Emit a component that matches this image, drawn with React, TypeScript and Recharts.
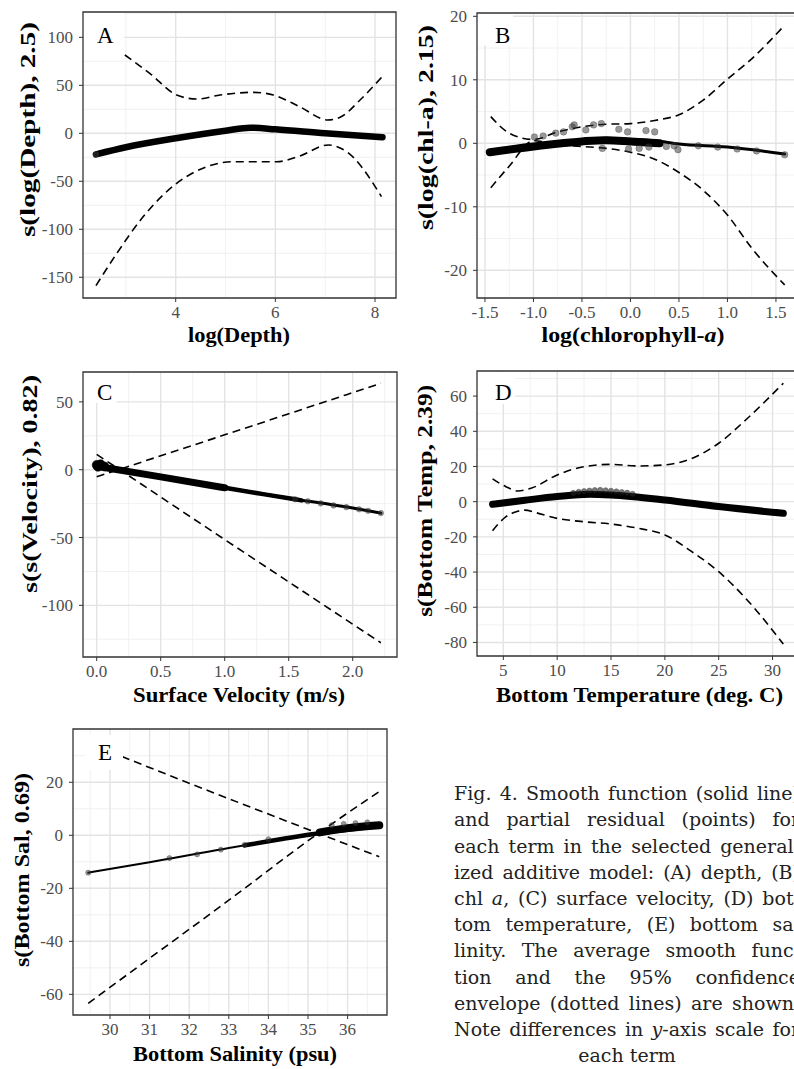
import React from 'react';
import { ComposedChart, Line, Scatter, XAxis, YAxis, CartesianGrid, ReferenceArea } from 'recharts';

// (A) depth
const depthFitX = [2.4, 3.0, 4.0, 5.0, 5.5, 6.0, 7.0, 8.15];
const depthFitY = [-22, -14.5, -5.2, 2.7, 5.9, 4.2, 0, -4.2];
const depthUpX = [2.98, 3.48, 4.02, 4.42, 4.89, 5.56, 5.96, 6.49, 7.05, 7.3, 7.7, 8.13];
const depthUpY = [81.6, 62.5, 39.9, 35.7, 39.9, 42.7, 39.9, 27.7, 13.9, 16.7, 34.7, 58.3];
const depthLoX = [2.4, 2.82, 3.35, 4.02, 4.62, 5.16, 6.03, 6.49, 7.06, 7.43, 8.13];
const depthLoY = [-158.7, -125, -86.8, -52.1, -34.8, -29.6, -29.6, -23.6, -12.2, -19.1, -66];
const depthPtsX = [2.4];
const depthPtsY = [-22];

// (B) chlorophyll-a
const chlFitX = [-1.45, -1.0, -0.5, -0.25, 0, 0.25, 0.5, 1.0, 1.59];
const chlFitY = [-1.4, -0.3, 0.5, 0.8, 0.6, 0.4, -0.1, -0.6, -1.7];
const chlBandX = [-1.45, -1.0, -0.5, -0.25, 0, 0.3];
const chlBandY = [-1.4, -0.5, 0.3, 0.5, 0.3, 0.0];
const chlUpX = [-1.44, -1.25, -1.0, -0.75, -0.5, -0.25, 0, 0.25, 0.5, 0.75, 1.0, 1.25, 1.59];
const chlUpY = [4.2, 1.6, 0.6, 1.8, 2.6, 3.0, 3.1, 3.6, 4.5, 6.8, 10.1, 13.3, 18.6];
const chlLoX = [-1.44, -1.25, -1.0, -0.75, -0.5, -0.25, 0, 0.25, 0.5, 0.75, 1.0, 1.25, 1.59];
const chlLoY = [-7.0, -3.6, 0.4, -0.2, -0.5, -0.8, -1.4, -2.5, -4.6, -7.4, -11.3, -16.5, -22.3];
const chlPtsX = [-0.99, -0.9, -0.77, -0.69, -0.6, -0.58, -0.46, -0.38, -0.3, -0.12, -0.03, 0.16, 0.25,
  -0.29, -0.02, 0.09, 0.19, 0.37, 0.45, 0.49, 0.7, 0.9, 1.1, 1.3, 1.59];
const chlPtsY = [1.0, 1.15, 1.6, 1.8, 2.6, 2.9, 2.1, 2.9, 3.1, 2.2, 1.8, 2.0, 1.8,
  -0.8, -0.9, -0.8, -0.6, -0.5, -0.4, -1.0, -0.4, -0.6, -0.9, -1.2, -1.8];

// (C) surface velocity
const velFitX = [0, 0.5, 1.0, 1.5, 2.0, 2.22];
const velFitY = [3, -5.3, -13.3, -21, -28.3, -32];
const velBandX = [0, 0.5, 1.0];
const velBandY = [2.5, -5.3, -13.3];
const velBand2X = [1.0, 1.3, 1.6];
const velBand2Y = [-13.3, -18, -22.6];
const velUpX = [0, 1.0, 2.22];
const velUpY = [-5.2, 25.7, 63.7];
const velLoX = [0, 1.0, 2.22];
const velLoY = [11.3, -51.5, -127.6];
const velBlobX = [0, 0.01, 0.03, 0.06];
const velBlobY = [3.5, 2.2, 4.0, 2.4];
const velPtsX = [1.55, 1.65, 1.75, 1.85, 1.95, 2.05, 2.12, 2.22];
const velPtsY = [-21.8, -23.3, -24.8, -26.3, -27.6, -29.2, -30.3, -32];

// (D) bottom temperature
const tempFitX = [4, 7, 10, 13, 15, 20, 25, 31];
const tempFitY = [-1.5, 0.8, 2.9, 4.2, 3.8, 1, -2.8, -6.6];
const tempUpX = [4, 5.25, 6.34, 7.57, 10, 12.5, 15, 17.5, 20, 22.5, 25, 27.5, 31];
const tempUpY = [13, 8.5, 6.1, 7.6, 15.2, 19.9, 21.2, 20.3, 20.9, 24.6, 33.2, 46.4, 67.3];
const tempLoX = [4, 5.25, 6.2, 7, 8, 10, 12.5, 15, 17.5, 20, 22.5, 25, 27.5, 31];
const tempLoY = [-16.5, -8.5, -5.7, -4.8, -6.2, -9.5, -11.4, -12.7, -15.1, -18.9, -28.4, -39.8, -54.9, -80.9];
const tempPtsX = [11.5, 12, 12.5, 13, 13.5, 14, 14.5, 15, 15.5, 16, 16.5, 17];
const tempPtsY = [5.0, 5.6, 6.0, 6.3, 6.6, 6.7, 6.5, 6.2, 5.8, 5.5, 5.1, 4.5];

// (E) bottom salinity
const salFitX = [29.45, 31, 33, 35.1, 36.8];
const salFitY = [-14.1, -10.2, -4.8, 0.1, 3.5];
const salBandX = [33.4, 34.3, 35.1, 36, 36.8];
const salBandY = [-3.8, -1.5, 0.4, 2.1, 3.6];
const salBand2X = [35.3, 36, 36.8];
const salBand2Y = [1.1, 2.7, 3.8];
const salUpX = [30.3, 33, 36.8];
const salUpY = [29.7, 13.8, -8.1];
const salLoX = [29.45, 31, 33, 35.1, 36.8];
const salLoY = [-63.4, -46.4, -24.5, -1.0, 16.5];
const salPtsX = [29.45, 31.5, 32.2, 32.8, 33.4, 34.0, 35.6, 35.9, 36.2, 36.5];
const salPtsY = [-14.1, -8.6, -7.2, -5.4, -3.6, -1.5, 3.8, 4.3, 4.6, 4.9];

type Pt = { x: number; y: number };
const pts = (xs: number[], ys: number[]): Pt[] => xs.map((x, i) => ({ x, y: ys[i] }));

const serif = '"Liberation Serif", "Times New Roman", Times, serif';

const title = (content: React.ReactNode, x: number, y: number, len: number, vertical = false) => () => (
  <text
    x={x}
    y={y}
    textAnchor="middle"
    fontFamily={serif}
    fontWeight="bold"
    fontSize={21}
    fill="#000"
    textLength={len}
    lengthAdjust="spacingAndGlyphs"
    transform={vertical ? `rotate(-90 ${x} ${y})` : undefined}
  >
    {content}
  </text>
);

const dot = (r: number, fill: string, opacity: number) => (p: any) => (
  <circle cx={p.cx} cy={p.cy} r={r} fill={fill} fillOpacity={opacity} stroke={fill} strokeOpacity={opacity} strokeWidth={0.6} />
);

interface PanelProps {
  left: number; top: number; width: number; height: number;
  mTop: number; mRight: number; yW: number; xH: number;
  xDomain: [number, number]; yDomain: [number, number];
  xTicks: number[]; yTicks: number[]; xMinor: number[]; yMinor: number[];
  xDigits: number;
  fit: Pt[]; fitW: number;
  bands?: { data: Pt[]; w: number }[];
  upper: Pt[]; lower: Pt[];
  points?: Pt[]; pointR?: number; pointFill?: string; pointAlpha?: number;
  blob?: Pt[];
  xTitle: () => React.ReactNode; yTitle: () => React.ReactNode;
}

const Panel: React.FC<PanelProps> = (p) => {
  const tickStyle = { fill: '#4d4d4d', fontSize: 17, fontFamily: serif };
  return (
    <div style={{ position: 'absolute', left: p.left, top: p.top }}>
      <ComposedChart width={p.width} height={p.height} margin={{ top: p.mTop, right: p.mRight, left: 0, bottom: 0 }}>
        <CartesianGrid stroke="#eeeeee" strokeWidth={0.8} horizontalValues={p.yMinor} verticalValues={p.xMinor} />
        <CartesianGrid stroke="#e3e3e3" strokeWidth={1.4} horizontalValues={p.yTicks} verticalValues={p.xTicks} />
        <XAxis
          type="number"
          dataKey="x"
          domain={p.xDomain}
          allowDataOverflow
          ticks={p.xTicks}
          tickFormatter={(v: number) => v.toFixed(p.xDigits)}
          tick={tickStyle}
          tickSize={4}
          tickMargin={4}
          tickLine={{ stroke: '#333' }}
          axisLine={false}
          height={p.xH}
          label={p.xTitle}
        />
        <YAxis
          type="number"
          dataKey="y"
          domain={p.yDomain}
          allowDataOverflow
          ticks={p.yTicks}
          tick={tickStyle}
          tickSize={4}
          tickMargin={6}
          tickLine={{ stroke: '#333' }}
          axisLine={false}
          width={p.yW}
          label={p.yTitle}
        />
        <ReferenceArea x1={p.xDomain[0]} x2={p.xDomain[1]} y1={p.yDomain[0]} y2={p.yDomain[1]} fill="none" stroke="#333" strokeWidth={1.3} />
        <Line data={p.upper} dataKey="y" type="monotone" stroke="#000" strokeWidth={1.6} strokeDasharray="8 5" dot={false} isAnimationActive={false} />
        <Line data={p.lower} dataKey="y" type="monotone" stroke="#000" strokeWidth={1.6} strokeDasharray="8 5" dot={false} isAnimationActive={false} />
        {p.points && (
          <Scatter data={p.points} dataKey="y" shape={dot(p.pointR ?? 3, p.pointFill ?? '#444', p.pointAlpha ?? 0.45)} isAnimationActive={false} />
        )}
        <Line data={p.fit} dataKey="y" type="monotone" stroke="#000" strokeWidth={p.fitW} strokeLinecap="round" dot={false} isAnimationActive={false} />
        {(p.bands ?? []).map((b, i) => (
          <Line key={i} data={b.data} dataKey="y" type="monotone" stroke="#000" strokeWidth={b.w} strokeLinecap="round" dot={false} isAnimationActive={false} />
        ))}
        {p.blob && <Scatter data={p.blob} dataKey="y" shape={dot(4.5, '#000', 1)} isAnimationActive={false} />}
      </ComposedChart>
    </div>
  );
};

const tags = [
  { t: 'A', box: [84, 13, 40, 31], at: [97, 43] },
  { t: 'B', box: [478, 14, 35, 31], at: [495, 43] },
  { t: 'C', box: [84, 373, 33, 30], at: [97, 400] },
  { t: 'D', box: [478, 372, 37, 32], at: [495, 400] },
  { t: 'E', box: [85, 735, 38, 35], at: [98, 760] },
];

const captionLines: React.ReactNode[] = [
  'Fig. 4. Smooth function (solid line)',
  'and partial residual (points) for',
  'each term in the selected general-',
  'ized additive model: (A) depth, (B)',
  <>chl <i>a</i>, (C) surface velocity, (D) bot-</>,
  'tom temperature, (E) bottom sa-',
  'linity. The average smooth func-',
  'tion and the 95% confidence',
  'envelope (dotted lines) are shown.',
  <>Note differences in <i>y</i>-axis scale for</>,
  'each term',
];

const App: React.FC = () => {
  return (
    <div style={{ position: 'absolute', left: 0, top: 0, width: 794, height: 1069, overflow: 'hidden', background: '#fff' }}>
      <Panel
        left={0} top={0} width={400} height={350} mTop={12} mRight={4} yW={83} xH={52}
        xDomain={[2.14, 8.421]} yDomain={[-171.6, 126.4]}
        xTicks={[4, 6, 8]} yTicks={[-150, -100, -50, 0, 50, 100]}
        xMinor={[3, 5, 7]} yMinor={[-125, -75, -25, 25, 75, 125]} xDigits={0}
        fit={pts(depthFitX, depthFitY)} fitW={6.5}
        upper={pts(depthUpX, depthUpY)} lower={pts(depthLoX, depthLoY)}
        points={pts(depthPtsX, depthPtsY)}
        xTitle={title('log(Depth)', 239, 342, 102)}
        yTitle={title('s(log(Depth), 2.5)', 35, 129.5, 215, true)}
      />
      <Panel
        left={400} top={0} width={400} height={350} mTop={13} mRight={3} yW={77} xH={52}
        xDomain={[-1.582, 1.717]} yDomain={[-24.36, 20.52]}
        xTicks={[-1.5, -1, -0.5, 0, 0.5, 1, 1.5]} yTicks={[-20, -10, 0, 10, 20]}
        xMinor={[-1.25, -0.75, -0.25, 0.25, 0.75, 1.25]} yMinor={[-15, -5, 5, 15]} xDigits={1}
        fit={pts(chlFitX, chlFitY)} fitW={3}
        bands={[{ data: pts(chlBandX, chlBandY), w: 8 }]}
        upper={pts(chlUpX, chlUpY)} lower={pts(chlLoX, chlLoY)}
        points={pts(chlPtsX, chlPtsY)} pointR={3.3} pointFill="#333" pointAlpha={0.5}
        xTitle={title(<><tspan>log(chlorophyll-</tspan><tspan fontStyle="italic">a</tspan><tspan>)</tspan></>, 233, 342, 183)}
        yTitle={title('s(log(chl-a), 2.15)', 33, 127.5, 205, true)}
      />
      <Panel
        left={0} top={350} width={400} height={362} mTop={22} mRight={3} yW={83} xH={55}
        xDomain={[-0.107, 2.346]} yDomain={[-138.1, 72.05]}
        xTicks={[0, 0.5, 1, 1.5, 2]} yTicks={[-100, -50, 0, 50]}
        xMinor={[0.25, 0.75, 1.25, 1.75, 2.25]} yMinor={[-125, -75, -25, 25]} xDigits={1}
        fit={pts(velFitX, velFitY)} fitW={3}
        bands={[{ data: pts(velBandX, velBandY), w: 7 }, { data: pts(velBand2X, velBand2Y), w: 4.5 }]}
        upper={pts(velUpX, velUpY)} lower={pts(velLoX, velLoY)}
        points={pts(velPtsX, velPtsY)} pointR={2.8} pointFill="#333" pointAlpha={0.5}
        blob={pts(velBlobX, velBlobY)}
        xTitle={title('Surface Velocity (m/s)', 239, 351.5, 212)}
        yTitle={title('s(s(Velocity), 0.82)', 37, 134, 218, true)}
      />
      <Panel
        left={400} top={350} width={400} height={362} mTop={21} mRight={3} yW={77} xH={56}
        xDomain={[2.556, 32.27]} yDomain={[-87.7, 74.26]}
        xTicks={[5, 10, 15, 20, 25, 30]} yTicks={[-80, -60, -40, -20, 0, 20, 40, 60]}
        xMinor={[7.5, 12.5, 17.5, 22.5, 27.5]} yMinor={[-70, -50, -30, -10, 10, 30, 50, 70]} xDigits={0}
        fit={pts(tempFitX, tempFitY)} fitW={7}
        upper={pts(tempUpX, tempUpY)} lower={pts(tempLoX, tempLoY)}
        points={pts(tempPtsX, tempPtsY)} pointR={2.6} pointFill="#222" pointAlpha={0.6}
        xTitle={title('Bottom Temperature (deg. C)', 239.5, 351.5, 287)}
        yTitle={title('s(Bottom Temp, 2.39)', 32, 150.8, 232, true)}
      />
      <Panel
        left={0} top={700} width={400} height={369} mTop={29} mRight={13} yW={73} xH={54}
        xDomain={[29.066, 36.995]} yDomain={[-67.8, 40.1]}
        xTicks={[30, 31, 32, 33, 34, 35, 36]} yTicks={[-60, -40, -20, 0, 20]}
        xMinor={[29.5, 30.5, 31.5, 32.5, 33.5, 34.5, 35.5, 36.5]} yMinor={[-50, -30, -10, 10, 30]} xDigits={0}
        fit={pts(salFitX, salFitY)} fitW={2}
        bands={[{ data: pts(salBandX, salBandY), w: 4.5 }, { data: pts(salBand2X, salBand2Y), w: 8 }]}
        upper={pts(salUpX, salUpY)} lower={pts(salLoX, salLoY)}
        points={pts(salPtsX, salPtsY)} pointR={2.6} pointFill="#333" pointAlpha={0.5}
        xTitle={title('Bottom Salinity (psu)', 235, 360.5, 204)}
        yTitle={title('s(Bottom Sal, 0.69)', 29, 170, 194, true)}
      />

      {tags.map((g) => (
        <React.Fragment key={g.t}>
          <div style={{ position: 'absolute', left: g.box[0], top: g.box[1], width: g.box[2], height: g.box[3], background: '#fff' }} />
          <div style={{ position: 'absolute', left: g.at[0], top: g.at[1] - 19.3, fontFamily: serif, fontSize: 23, lineHeight: '23px', color: '#000' }}>
            {g.t}
          </div>
        </React.Fragment>
      ))}

      <div style={{ position: 'absolute', left: 454, top: 780.3, width: 346, fontFamily: '"DejaVu Serif", serif', fontSize: 19, color: '#222' }}>
        {captionLines.map((ln, i) => {
          const last = i === captionLines.length - 1;
          return (
            <div
              key={i}
              style={{
                height: 26.2,
                lineHeight: '26.2px',
                whiteSpace: 'nowrap',
                textAlign: last ? 'center' : 'justify',
                textAlignLast: last ? 'center' : 'justify',
              } as React.CSSProperties}
            >
              {ln}
            </div>
          );
        })}
      </div>
    </div>
  );
};

export default App;
